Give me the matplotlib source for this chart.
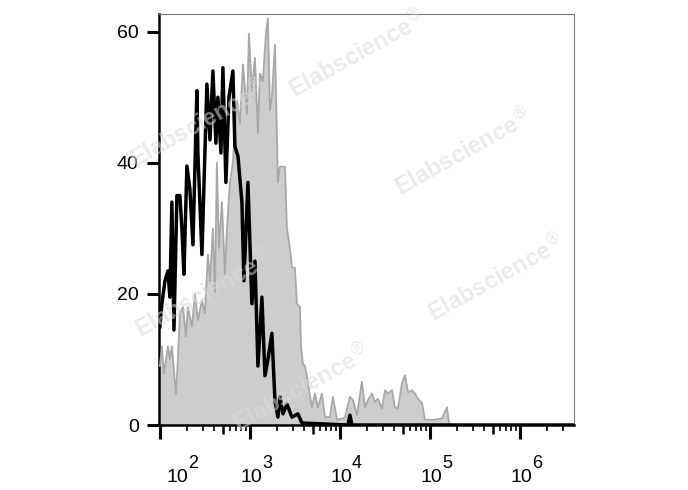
import numpy as np
import matplotlib.pyplot as plt
from matplotlib import transforms

plt.rcParams['font.family'] = ['Liberation Sans', 'DejaVu Sans']

# log10 of fluorescence intensity, and cell counts
gray_logx = [2.000, 2.022, 2.044, 2.089, 2.111, 2.133, 2.178, 2.200, 2.222, 2.256,
             2.289, 2.311, 2.356, 2.389, 2.422, 2.467, 2.500, 2.533, 2.556, 2.589,
             2.611, 2.633, 2.656, 2.689, 2.722, 2.744, 2.778, 2.811, 2.856, 2.889,
             2.922, 2.967, 2.989, 3.022, 3.056, 3.089, 3.111, 3.144, 3.178, 3.200,
             3.222, 3.244, 3.278, 3.311, 3.333, 3.389, 3.411, 3.444, 3.467, 3.500,
             3.522, 3.556, 3.567, 3.589, 3.611, 3.633, 3.656, 3.689, 3.722, 3.756,
             3.800, 3.833, 3.889, 3.922, 3.967, 4.033, 4.056, 4.111, 4.144, 4.189,
             4.244, 4.278, 4.311, 4.356, 4.389, 4.422, 4.467, 4.500, 4.533, 4.578,
             4.611, 4.644, 4.689, 4.722, 4.756, 4.800, 4.833, 4.867, 4.911, 4.944,
             5.033, 5.133, 5.189, 5.211, 5.244, 6.600]
gray_count = [9, 12, 7.8, 12, 10, 12, 4.7, 10, 17, 18,
              13.5, 18, 15, 20, 16, 19, 17, 26, 22, 30,
              20, 40, 27, 34, 23, 29.6, 37, 40, 49.5, 46,
              55, 47.5, 59.7, 51, 56, 44.5, 53.6, 52.5, 59.7, 62,
              48, 50, 58, 37, 39.4, 39.4, 30, 27, 24, 24,
              18.5, 18, 12, 9.3, 9, 7.5, 5.3, 2.7, 4.8, 2.7,
              4.8, 1.2, 1.2, 4.3, 0.8, 1.0, 1.2, 4.3, 3.8, 1.5,
              6.6, 2.7, 3.8, 4.8, 3.5, 4.0, 2.5, 5.3, 4.8, 5.3,
              2.7, 2.5, 6.4, 7.6, 5.0, 5.3, 4.8, 4.0, 3.4, 0.8,
              0.8, 1.0, 2.7, 0.3, 0, 0]

black_logx = [2.000, 2.022, 2.056, 2.089, 2.111, 2.133, 2.156, 2.189, 2.222, 2.244,
              2.267, 2.300, 2.333, 2.367, 2.411, 2.422, 2.467, 2.522, 2.556, 2.589,
              2.622, 2.644, 2.678, 2.700, 2.733, 2.767, 2.811, 2.833, 2.867, 2.911,
              2.933, 2.978, 3.022, 3.056, 3.089, 3.133, 3.167, 3.200, 3.244, 3.278,
              3.311, 3.333, 3.367, 3.411, 3.467, 3.533, 3.578, 4.089, 4.111, 4.133,
              6.600]
black_count = [15, 18.5, 22, 23.5, 19.5, 34, 14.5, 35, 35, 30,
               23, 39.5, 36, 27.5, 51, 41.5, 26, 52, 43.5, 54,
               43, 50, 41.5, 54.5, 37, 50, 54, 42.5, 41, 34,
               22, 37, 18.5, 25, 9, 19.5, 7.5, 10, 14, 3.7,
               1.2, 4.3, 1.7, 3.2, 1.2, 1.7, 0.3, 0, 1.5, 0,
               0]

decades = [2, 3, 4, 5, 6]
y_major = [0, 20, 40, 60]

gx = 10 ** np.array(gray_logx)
bx = 10 ** np.array(black_logx)
x_lo, x_hi = 10 ** 1.99, 10 ** 6.6

fig = plt.figure(figsize=(6.88, 4.90), dpi=100)
ax = fig.add_axes([159 / 688, 65 / 490, 415 / 688, 411 / 490])

ax.fill_between(gx, 0, gray_count, color='#cdcdcd', lw=0, zorder=2)
ax.plot(gx, gray_count, color='#a8a8a8', lw=1.3, zorder=3)

# watermarks
wm = [(358, 54), (464, 152), (497, 278), (199, 124), (204, 294), (302, 388)]
for px, py in wm:
    fig.text(px / 688, 1 - py / 490, 'Elabscience$^{\u00ae}$', rotation=29,
             ha='center', va='center', fontsize=17, fontweight='bold',
             color='#dadada', alpha=0.55, zorder=4)

ax.plot(bx, black_count, color='black', lw=2.5, zorder=5)

ax.set_xscale('log')
ax.set_xticks([10.0 ** d for d in decades])
ax.set_xticklabels([])
minors = [m * 10.0 ** d for d in [2, 3, 4, 5, 6] for m in [2, 3, 4, 6, 7, 8, 9]]
minors = [v for v in minors if v < x_hi]
ax.set_xticks(minors, minor=True)
ax.set_xlim(x_lo, x_hi)
ax.tick_params(axis='x', which='major', length=10, width=2.2, direction='out')
ax.tick_params(axis='x', which='minor', length=4, width=1.2, direction='out')

ax.set_yticks(y_major)
ax.set_yticks(np.arange(0, 61, 5), minor=True)
ax.set_ylim(0, 62.7)
ax.tick_params(axis='y', which='major', length=8.6, width=2.2, labelsize=14, pad=6)
ax.tick_params(axis='y', which='minor', length=4.3, width=1.1)

for s in ['left', 'bottom']:
    ax.spines[s].set_linewidth(1.8)
    ax.spines[s].set_color('black')
for s in ['top', 'right']:
    ax.spines[s].set_linewidth(0.8)
    ax.spines[s].set_color('#777777')

# 5x ticks, a bit longer than the other minors
ax2 = ax.twiny()
ax2.set_xscale('log')
ax2.xaxis.set_ticks_position('bottom')
ax2.set_xticks([5 * 10.0 ** d for d in [2, 3, 4, 5]])
ax2.set_xticklabels([])
ax2.minorticks_off()
ax2.set_xlim(x_lo, x_hi)
ax2.tick_params(axis='x', which='major', length=6.5, width=1.8, direction='out')
for s in ax2.spines.values():
    s.set_visible(False)

# decade labels, drawn as text like the cytometer software does
for d in decades:
    dx = 7 if d == 2 else -9
    t1 = transforms.offset_copy(ax.get_xaxis_transform(), fig, x=dx, y=-57, units='dots')
    t2 = transforms.offset_copy(ax.get_xaxis_transform(), fig, x=dx + 21, y=-43, units='dots')
    ax.text(10.0 ** d, 0, '10', transform=t1, ha='left', va='baseline', fontsize=14)
    ax.text(10.0 ** d, 0, str(d), transform=t2, ha='left', va='baseline', fontsize=13)

fig.savefig('out.png', dpi=100)
